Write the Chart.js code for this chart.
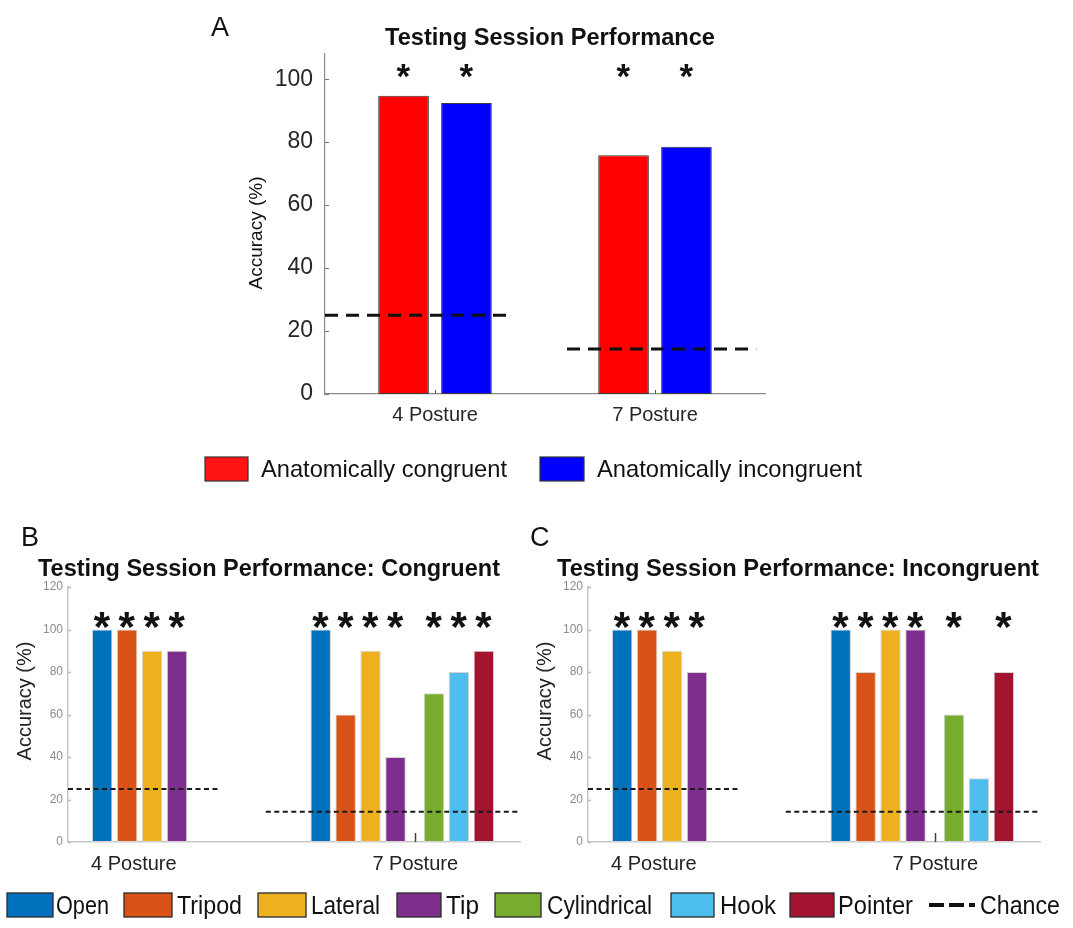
<!DOCTYPE html>
<html>
<head>
<meta charset="utf-8">
<script src="https://cdn.jsdelivr.net/npm/chart.js@4.4.1/dist/chart.umd.min.js"></script>
<style>
html, body { margin: 0; padding: 0; background: #fff; }
#wrap { position: relative; width: 1073px; height: 928px; overflow: hidden; font-family: "Liberation Sans", Arial, sans-serif; }
#wrap canvas { position: absolute; }
#overlay { position: absolute; left: 0; top: 0; pointer-events: none; }
</style>
</head>
<body>
<div id="wrap">
  <canvas id="chartA" width="1073" height="440" style="left:0;top:0"></canvas>
  <canvas id="chartB" width="535" height="390" style="left:0;top:500px"></canvas>
  <canvas id="chartC" width="553" height="390" style="left:520px;top:500px"></canvas>
  <svg id="overlay" width="1073" height="928" font-family="Liberation Sans, Arial, sans-serif">
    <text x="211" y="36" font-size="27" fill="#111">A</text>
    <text x="385" y="45" font-size="24" font-weight="bold" fill="#111" textLength="330" lengthAdjust="spacingAndGlyphs">Testing Session Performance</text>
    <text transform="translate(262,233) rotate(-90)" text-anchor="middle" font-size="19" fill="#111">Accuracy (%)</text>
    <rect x="205" y="457" width="43" height="24" fill="#FF1414" stroke="#333" stroke-width="1.2"/>
    <text x="261" y="477" font-size="24" fill="#111" textLength="246" lengthAdjust="spacingAndGlyphs">Anatomically congruent</text>
    <rect x="540" y="457" width="44" height="24" fill="#0000FF" stroke="#333" stroke-width="1.2"/>
    <text x="597" y="477" font-size="24" fill="#111" textLength="265" lengthAdjust="spacingAndGlyphs">Anatomically incongruent</text>

    <text x="21" y="546" font-size="27" fill="#111">B</text>
    <text x="38" y="576" font-size="23" font-weight="bold" fill="#111" textLength="462" lengthAdjust="spacingAndGlyphs">Testing Session Performance: Congruent</text>
    <text transform="translate(31,701) rotate(-90)" text-anchor="middle" font-size="20" fill="#222">Accuracy (%)</text>
    <text x="530" y="546" font-size="27" fill="#111">C</text>
    <text x="557" y="576" font-size="23" font-weight="bold" fill="#111" textLength="482" lengthAdjust="spacingAndGlyphs">Testing Session Performance: Incongruent</text>
    <text transform="translate(551,701) rotate(-90)" text-anchor="middle" font-size="20" fill="#222">Accuracy (%)</text>
    <g id="legendBottom"></g>
  </svg>
</div>
<script>
// ---------------- DATA ----------------
// Panel A
const postureGroups = ['4 Posture', '7 Posture'];
const congruentAccuracy = [94.7, 75.8];
const incongruentAccuracy = [92.4, 78.5];
const congruentSignificant = [true, true];
const incongruentSignificant = [true, true];
const chanceLevel = [25, 100 / 7];
const yTicksA = [0, 20, 40, 60, 80, 100];

// Panels B and C
const graspTypes = ['Open', 'Tripod', 'Lateral', 'Tip', 'Cylindrical', 'Hook', 'Pointer'];
const congruent4 = [100, 100, 90, 90];
const congruent7 = [100, 60, 90, 40, 70, 80, 90];
const incongruent4 = [100, 100, 90, 80];
const incongruent7 = [100, 80, 100, 100, 60, 30, 80];
const congruent4Sig = [true, true, true, true];
const congruent7Sig = [true, true, true, true, true, true, true];
const incongruent4Sig = [true, true, true, true];
const incongruent7Sig = [true, true, true, true, true, false, true];
const yTicksBC = [0, 20, 40, 60, 80, 100, 120];

// ---------------- STYLE / LAYOUT ----------------
const FONT = '"Liberation Sans", Arial, sans-serif';
const graspColors = ['#0072BD', '#D95319', '#EDB120', '#7E2F8E', '#77AC30', '#4DBEEE', '#A2142F'];
const conditionColors = ['#FF0000', '#0000FF'];

// panel A x-layout (group units)
const groupCentersA = [1, 2];
const barOffsetA = 0.143;
const chanceSpanA = [[0.5, 1.35], [1.6, 2.46]];
// panel B/C x-layout (bar-slot units)
const groupCentersBC = [1.27, 12.55];
function slotPosition(group, i) {
  if (group === 0) return i;
  return i < 4 ? 8.76 + i : 13.3 + (i - 4);
}
const chanceSpanBC = [[-1.37, 4.75], [6.56, 16.75]];

// ---------------- PLUGINS ----------------
const innerTicks = {
  id: 'innerTicks',
  beforeDatasetsDraw(chart, args, o) {
    const {ctx, chartArea, scales: {x, y}} = chart;
    ctx.save();
    ctx.lineWidth = o.width;
    ctx.strokeStyle = o.xColor;
    ctx.beginPath();
    for (const t of x.ticks) {
      const px = Math.round(x.getPixelForValue(t.value)) + 0.5;
      ctx.moveTo(px, chartArea.bottom);
      ctx.lineTo(px, chartArea.bottom - o.xLength);
    }
    ctx.stroke();
    ctx.strokeStyle = o.yColor;
    ctx.beginPath();
    for (const t of y.ticks) {
      const py = Math.round(y.getPixelForValue(t.value)) + 0.5;
      ctx.moveTo(chartArea.left, py);
      ctx.lineTo(chartArea.left + o.yLength, py);
    }
    ctx.stroke();
    ctx.restore();
  }
};

const asterisks = {
  id: 'asterisks',
  afterDatasetsDraw(chart, args, o) {
    const {ctx, scales: {x, y}} = chart;
    ctx.save();
    ctx.font = o.font;
    ctx.fillStyle = o.color;
    ctx.textAlign = 'left';
    ctx.textBaseline = 'alphabetic';
    const m = ctx.measureText('*');
    const L = m.actualBoundingBoxLeft, R = m.actualBoundingBoxRight;
    const A = m.actualBoundingBoxAscent, D = m.actualBoundingBoxDescent;
    for (const it of o.items) {
      const px = x.getPixelForValue(it.x);
      const py = y.getPixelForValue(it.y);
      ctx.fillText('*', px - (R - L) / 2, py + (A - D) / 2);
    }
    ctx.restore();
  }
};

// ---------------- PANEL A ----------------
(function () {
  const conds = [
    {label: 'Anatomically congruent', values: congruentAccuracy, sig: congruentSignificant, off: -barOffsetA},
    {label: 'Anatomically incongruent', values: incongruentAccuracy, sig: incongruentSignificant, off: barOffsetA}
  ];
  const datasets = [];
  const stars = [];
  conds.forEach((c, ci) => {
    datasets.push({
      type: 'bar', label: c.label,
      data: c.values.map((v, g) => ({x: groupCentersA[g] + c.off, y: v})),
      backgroundColor: conditionColors[ci], borderColor: '#3a3a3a', borderWidth: 1, borderSkipped: false,
      grouped: false, categoryPercentage: 1, barPercentage: 0.805, order: 2
    });
    c.sig.forEach((s, g) => { if (s) stars.push({x: groupCentersA[g] + c.off, y: 102.6}); });
  });
  chanceLevel.forEach((lvl, g) => {
    datasets.push({
      type: 'line', label: 'Chance',
      data: chanceSpanA[g].map(xv => ({x: xv, y: lvl})),
      borderColor: '#111', borderWidth: 3, borderDash: [13, 8], pointRadius: 0, fill: false, order: 0
    });
  });
  new Chart(document.getElementById('chartA'), {
    type: 'bar',
    data: {datasets},
    plugins: [innerTicks, asterisks],
    options: {
      responsive: false, animation: false, devicePixelRatio: 1,
      layout: {padding: {left: 235, right: 308, top: 54, bottom: 6}},
      plugins: {
        legend: {display: false}, tooltip: {enabled: false},
        innerTicks: {width: 1, xColor: '#555', yColor: '#777', xLength: 4, yLength: 4},
        asterisks: {items: stars, font: 'bold 35px ' + FONT, color: '#111'}
      },
      scales: {
        x: {
          type: 'linear', min: 0.5, max: 2.5, offset: false,
          grid: {display: false, drawTicks: false},
          border: {display: true, color: '#8a8a8a', width: 1.2},
          afterBuildTicks: s => { s.ticks = groupCentersA.map(v => ({value: v})); },
          afterFit: s => { s.height = 40; },
          ticks: {autoSkip: false, maxRotation: 0, padding: 9, color: '#262626',
                  font: {family: FONT, size: 20}, callback: (v, i) => postureGroups[i]}
        },
        y: {
          type: 'linear', min: 0, max: 108,
          grid: {display: false, drawTicks: false},
          border: {display: true, color: '#8a8a8a', width: 1.2},
          afterBuildTicks: s => { s.ticks = yTicksA.map(v => ({value: v})); },
          afterFit: s => { s.width = 90; },
          ticks: {padding: 12, color: '#262626', font: {family: FONT, size: 23}}
        }
      }
    }
  });
})();

// ---------------- PANELS B & C ----------------
function buildPanel(canvasId, values4, values7, sig4, sig7, rightPad) {
  const datasets = [];
  const stars = [];
  graspTypes.forEach((name, i) => {
    const pts = [];
    if (i < values4.length) {
      pts.push({x: slotPosition(0, i), y: values4[i]});
      if (sig4[i]) stars.push({x: slotPosition(0, i), y: 104.5});
    }
    pts.push({x: slotPosition(1, i), y: values7[i]});
    if (sig7[i]) stars.push({x: slotPosition(1, i), y: 104.5});
    datasets.push({
      type: 'bar', label: name, data: pts,
      backgroundColor: graspColors[i], borderColor: '#d4d4d4', borderWidth: 1, borderSkipped: false,
      grouped: false, categoryPercentage: 1, barPercentage: 0.82, order: 2
    });
  });
  chanceLevel.forEach((lvl, g) => {
    datasets.push({
      type: 'line', label: 'Chance',
      data: chanceSpanBC[g].map(xv => ({x: xv, y: lvl})),
      borderColor: '#1a1a1a', borderWidth: 2, borderDash: [5, 3.5], pointRadius: 0, fill: false, order: 0
    });
  });
  new Chart(document.getElementById(canvasId), {
    type: 'bar',
    data: {datasets},
    plugins: [innerTicks, asterisks],
    options: {
      responsive: false, animation: false, devicePixelRatio: 1,
      layout: {padding: {left: 0, right: rightPad, top: 87, bottom: 8}},
      plugins: {
        legend: {display: false}, tooltip: {enabled: false},
        innerTicks: {width: 1.5, xColor: '#444', yColor: '#bbb', xLength: 9, yLength: 3},
        asterisks: {items: stars, font: 'bold 42px ' + FONT, color: '#111'}
      },
      scales: {
        x: {
          type: 'linear', min: -1.37, max: 16.75, offset: false,
          grid: {display: false, drawTicks: false},
          border: {display: true, color: '#c8c8c8', width: 1.5},
          afterBuildTicks: s => { s.ticks = groupCentersBC.map(v => ({value: v})); },
          afterFit: s => { s.height = 40; },
          ticks: {autoSkip: false, maxRotation: 0, padding: 10, color: '#222',
                  font: {family: FONT, size: 20}, callback: (v, i) => postureGroups[i]}
        },
        y: {
          type: 'linear', min: 0, max: 120,
          grid: {display: false, drawTicks: false},
          border: {display: true, color: '#c8c8c8', width: 1.5},
          afterBuildTicks: s => { s.ticks = yTicksBC.map(v => ({value: v})); },
          afterFit: s => { s.width = 68; },
          ticks: {padding: 5, color: '#8c8c8c', font: {family: FONT, size: 12}}
        }
      }
    }
  });
}
buildPanel('chartB', congruent4, congruent7, congruent4Sig, congruent7Sig, 15);
buildPanel('chartC', incongruent4, incongruent7, incongruent4Sig, incongruent7Sig, 33);

// ---------------- BOTTOM LEGEND ----------------
(function () {
  const NS = 'http://www.w3.org/2000/svg';
  const g = document.getElementById('legendBottom');
  const boxX = [7, 124, 258, 397, 495, 671, 790];
  const boxW = [46, 48, 48, 44, 46, 43, 44];
  const textX = [56, 177, 311, 446, 547, 720, 838];
  const textW = [53, 65, 69, 33, 105, 56, 75];
  function el(tag, attrs, txt) {
    const e = document.createElementNS(NS, tag);
    for (const k in attrs) e.setAttribute(k, attrs[k]);
    if (txt) e.textContent = txt;
    g.appendChild(e);
    return e;
  }
  graspTypes.forEach((name, i) => {
    el('rect', {x: boxX[i], y: 893, width: boxW[i], height: 24, fill: graspColors[i], stroke: '#2a2a2a', 'stroke-width': 1.3});
    el('text', {x: textX[i], y: 914, 'font-size': 25, fill: '#111', textLength: textW[i], lengthAdjust: 'spacingAndGlyphs'}, name);
  });
  el('line', {x1: 929, y1: 905, x2: 975, y2: 905, stroke: '#111', 'stroke-width': 4, 'stroke-dasharray': '15 5'});
  el('text', {x: 980, y: 914, 'font-size': 25, fill: '#111', textLength: 80, lengthAdjust: 'spacingAndGlyphs'}, 'Chance');
})();
</script>
</body>
</html>
